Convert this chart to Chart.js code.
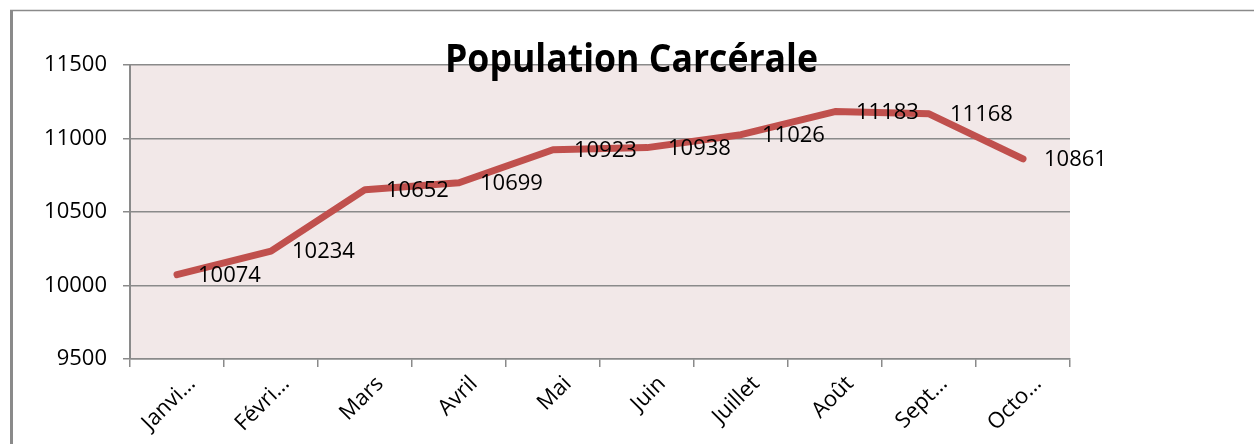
<!DOCTYPE html>
<html>
<head>
<meta charset="utf-8">
<script src="https://cdn.jsdelivr.net/npm/chart.js@4/dist/chart.umd.min.js"></script>
<style>
html,body{margin:0;padding:0;background:#fff;}
#wrap{width:1254px;height:444px;position:relative;}
</style>
</head>
<body>
<div id="wrap"><canvas id="c" width="1254" height="444"></canvas></div>
<script>
const titleText = "Population Carcérale";
const categories = ["Janvi…", "Févri…", "Mars", "Avril", "Mai", "Juin", "Juillet", "Août", "Sept…", "Octo…"];
const population = [10074, 10234, 10652, 10699, 10923, 10938, 11026, 11183, 11168, 10861];
const yMin = 9500, yMax = 11500, yStep = 500;

const FONT = "'Open Sans', 'Liberation Sans', sans-serif";

const framePlugin = {
  id: 'frame',
  beforeDraw(chart) {
    const {ctx, chartArea: a} = chart;
    ctx.save();
    ctx.fillStyle = '#fff';
    ctx.fillRect(0, 0, chart.width, chart.height);
    ctx.fillStyle = '#F2E8E8';
    ctx.fillRect(a.left, a.top, a.right - a.left, a.bottom - a.top);
    ctx.strokeStyle = '#8a8a8a';
    ctx.lineWidth = 3;
    ctx.beginPath(); ctx.moveTo(11.5, 10); ctx.lineTo(11.5, chart.height); ctx.stroke();
    ctx.lineWidth = 1.5;
    ctx.beginPath(); ctx.moveTo(10, 10.5); ctx.lineTo(chart.width, 10.5); ctx.stroke();
    ctx.restore();
  }
};

const labelPlugin = {
  id: 'valueLabels',
  afterDatasetsDraw(chart) {
    const {ctx} = chart;
    const meta = chart.getDatasetMeta(0);
    ctx.save();
    ctx.font = "22px " + FONT;
    ctx.fillStyle = '#000';
    ctx.textAlign = 'left';
    ctx.textBaseline = 'middle';
    meta.data.forEach((pt, i) => {
      ctx.fillText(String(population[i]), pt.x + 21, pt.y + 1);
    });
    // title overlay
    ctx.font = "bold 39px " + FONT;
    ctx.textAlign = 'left';
    ctx.textBaseline = 'alphabetic';
    const w = ctx.measureText(titleText).width;
    const target = 373;
    const sx = target / w;
    ctx.translate(445, 72);
    ctx.scale(sx, 1);
    ctx.fillText(titleText, 0, 0);
    ctx.restore();
  }
};

new Chart(document.getElementById('c'), {
  type: 'line',
  data: {
    labels: categories,
    datasets: [{
      data: population,
      borderColor: '#C0504D',
      borderWidth: 7,
      borderCapStyle: 'round',
      borderJoinStyle: 'round',
      pointRadius: 0,
      pointHoverRadius: 0,
      tension: 0,
      fill: false
    }]
  },
  options: {
    responsive: false,
    animation: false,
    events: [],
    layout: { padding: { left: 0, right: 184, top: 65, bottom: 0 } },
    plugins: { legend: { display: false }, tooltip: { enabled: false }, title: { display: false } },
    scales: {
      x: {
        offset: true,
        afterFit(s) { s.height = 85; },
        grid: { offset: true, drawOnChartArea: false, drawTicks: true, tickLength: 8, color: '#8a8a8a', lineWidth: 1.5 },
        border: { display: true, color: '#8a8a8a', width: 1.5 },
        ticks: { maxRotation: 45, minRotation: 45, autoSkip: false, color: '#000', font: { family: FONT, size: 22 }, padding: 4, labelOffset: 15 }
      },
      y: {
        min: yMin, max: yMax,
        afterFit(s) { s.width = 130; },
        grid: { drawOnChartArea: true, drawTicks: true, tickLength: 7, color: '#8a8a8a', lineWidth: 1.5 },
        border: { display: true, color: '#8a8a8a', width: 2 },
        ticks: { stepSize: yStep, color: '#000', font: { family: FONT, size: 22 }, padding: 16, callback: (v) => String(v) }
      }
    }
  },
  plugins: [framePlugin, labelPlugin]
});
</script>
</body>
</html>
